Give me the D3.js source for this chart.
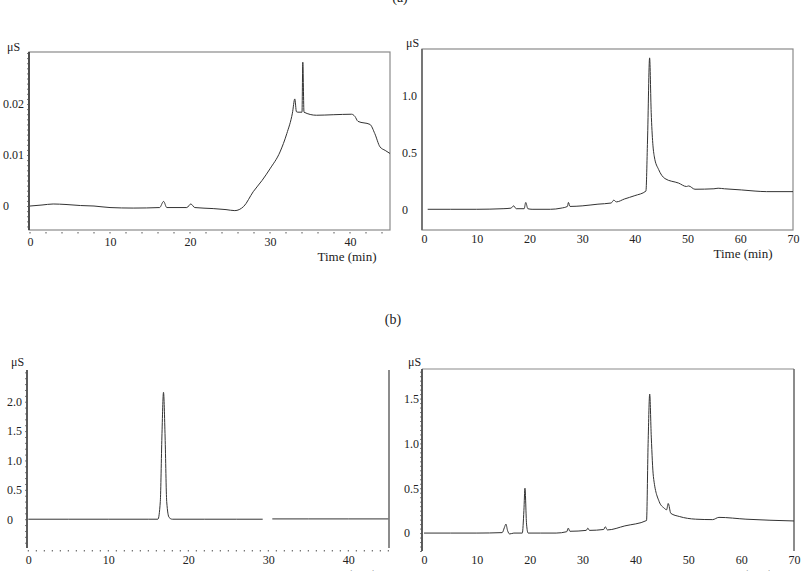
<!DOCTYPE html>
<html lang="en">
<head>
<meta charset="UTF-8"/>
<title>Chromatograms (a) and (b)</title>
<script src="https://d3js.org/d3.v7.min.js"></script>
<style>
	body { margin: 0; background: #fff; }
	text { font-family: "Liberation Serif", "Times New Roman", serif; fill: #222; }
</style>
</head>
<body>
<script>
	// panel (a) left: time (min) and conductivity (uS)
	var timeA = [0, 1.5, 2.9, 4.5, 6.3, 8, 10, 12.9, 16.2, 16.7, 17.1, 18, 19.6, 20.1, 20.6, 22.9, 24.5, 25.6, 26.7, 27.9, 29, 30, 31.25, 32.1, 32.8, 33.1, 33.3, 33.5, 34.0, 34.1, 34.25, 35.8, 37.9, 40.2, 40.6, 41.0, 42.5, 43.1, 43.75, 44.4, 45];
	var valueA = [0, 0.0002, 0.0004, 0.0003, 0.0001, 0, -0.0003, -0.0004, -0.0003, 0.0009, -0.0003, -0.0003, -0.0003, 0.0004, -0.0003, -0.0005, -0.0007, -0.0009, -0.0001, 0.0028, 0.005, 0.0073, 0.0106, 0.0142, 0.0182, 0.021, 0.0185, 0.0184, 0.0184, 0.0282, 0.0184, 0.0178, 0.0179, 0.018, 0.0176, 0.0166, 0.016, 0.0142, 0.0116, 0.0109, 0.0103];

	// panel (a) right
	var timeB = [0.7, 5, 10, 15, 16.5, 17, 17.5, 19, 19.3, 19.7, 20.5, 24, 26, 27.2, 27.4, 27.7, 30, 33, 35.5, 36, 36.5, 38, 40, 42.1, 42.4, 42.8, 43.1, 43.4, 43.7, 44.5, 45.7, 48.3, 49.8, 50.2, 51.4, 55, 55.8, 57, 60.2, 62.8, 65, 70];
	var valueB = [0, 0, 0, 0.005, 0.01, 0.03, 0.005, 0.005, 0.06, 0.005, 0, 0, 0.01, 0.025, 0.06, 0.025, 0.03, 0.045, 0.055, 0.08, 0.065, 0.09, 0.12, 0.16, 0.6, 1.33, 0.85, 0.58, 0.46, 0.35, 0.27, 0.23, 0.2, 0.205, 0.176, 0.18, 0.185, 0.18, 0.17, 0.16, 0.155, 0.155];

	// panel (b) left (null = gap in the trace)
	var timeC = [0, 5, 10, 15, 16.2, 16.5, 16.7, 16.9, 17.1, 17.3, 17.6, 18, 22, 26, 29.3, 29.4, 30.5, 35, 40, 45];
	var valueC = [0, 0, 0, 0, 0, 0.3, 1.4, 2.16, 1.4, 0.3, 0.03, 0, 0, 0, 0, null, 0.005, 0.005, 0.005, 0.005];

	// panel (b) right
	var timeD = [0, 5, 10, 14.8, 15.2, 15.5, 15.8, 16.2, 17, 18.6, 18.9, 19.1, 19.4, 19.7, 22, 25, 27, 27.3, 27.6, 30.7, 31.0, 31.3, 34.0, 34.3, 34.7, 38, 42.1, 42.4, 42.7, 43.0, 43.4, 44.5, 45.4, 45.9, 46.2, 46.7, 48.3, 51.4, 54.6, 55.8, 60.9, 70];
	var valueD = [0, 0, 0, 0.005, 0.06, 0.1, 0.03, -0.01, 0, 0, 0.25, 0.5, 0.1, 0, 0, 0, 0.015, 0.055, 0.02, 0.03, 0.055, 0.03, 0.04, 0.07, 0.035, 0.08, 0.14, 1.0, 1.55, 1.07, 0.63, 0.35, 0.28, 0.26, 0.33, 0.22, 0.185, 0.155, 0.15, 0.175, 0.155, 0.135];

	// tick labels
	var xTicks45 = [0, 10, 20, 30, 40];
	var xTicks70 = [0, 10, 20, 30, 40, 50, 60, 70];
	var yTicksA = [0, 0.01, 0.02];
	var yLabelsA = ["0", "0.01", "0.02"];
	var yTicksB = [0, 0.5, 1.0];
	var yLabelsB = ["0", "0.5", "1.0"];
	var yTicksC = [0, 0.5, 1.0, 1.5, 2.0];
	var yLabelsC = ["0", "0.5", "1.0", "1.5", "2.0"];
	var yTicksD = [0, 0.5, 1.0, 1.5];
	var yLabelsD = ["0", "0.5", "1.0", "1.5"];

	var w = 806;
	var h = 571;

	var svg = d3.select("body").append("svg").attr("width", w).attr("height", h);
	svg.append("rect").attr("width", w).attr("height", h).attr("fill", "#fff");

	var panels = [
		{id: "A", time: timeA, value: valueA, xDomain: [0, 45], xRange: [30, 390], yDomain: [-0.0047, 0.0302],
		 left: 29, right: 390, top: 52, bottom: 230, box: true, xTicks: xTicks45, yTicks: yTicksA, yLabels: yLabelsA,
		 labelX: 3, tickY: 246, unitY: 51, timeLabelY: 261, timeLabelX: 347, yMinor: 0.001, xMinor: 2},
		{id: "B", time: timeB, value: valueB, xDomain: [0, 70], xRange: [424, 793], yDomain: [-0.182, 1.408],
		 left: 422, right: 793, top: 49, bottom: 230, box: true, xTicks: xTicks70, yTicks: yTicksB, yLabels: yLabelsB,
		 labelX: 402, tickY: 243, unitY: 47, timeLabelY: 258, timeLabelX: 743, yMinor: null, xMinor: null},
		{id: "C", time: timeC, value: valueC, xDomain: [0, 45], xRange: [28.3, 388.3], yDomain: [-0.49, 2.54],
		 left: 27, right: 389, top: 370, bottom: 548, box: false, xTicks: xTicks45, yTicks: yTicksC, yLabels: yLabelsC,
		 labelX: 7, tickY: 564, unitY: 366, timeLabelY: 579, timeLabelX: 347, yMinor: 0.1, xMinor: 1},
		{id: "D", time: timeD, value: valueD, xDomain: [0, 70], xRange: [424, 794], yDomain: [-0.2, 1.83],
		 left: 422, right: 794, top: 369, bottom: 551, box: false, xTicks: xTicks70, yTicks: yTicksD, yLabels: yLabelsD,
		 labelX: 404, tickY: 564, unitY: 366, timeLabelY: 579, timeLabelX: 743, yMinor: 0.05, xMinor: null}
	];

	panels.forEach(function(p){
		var xScale = d3.scaleLinear().domain(p.xDomain).range(p.xRange);
		var yScale = d3.scaleLinear().domain(p.yDomain).range([p.bottom, p.top]);

		var g = svg.append("g");

		// frame
		if (p.box) {
			g.append("rect")
				.attr("x", p.left).attr("y", p.top)
				.attr("width", p.right - p.left).attr("height", p.bottom - p.top)
				.attr("fill", "none").attr("stroke", "#8a8a8a").attr("stroke-width", 1.2);
		} else {
			if (p.id == "D") {
				g.append("line").attr("x1", p.left).attr("x2", p.right).attr("y1", p.top).attr("y2", p.top)
					.attr("stroke", "#8a8a8a").attr("stroke-width", 1.2);
			}
			g.append("line").attr("x1", p.right).attr("x2", p.right).attr("y1", p.top).attr("y2", p.bottom)
				.attr("stroke", "#666").attr("stroke-width", 1.5);
		}

		// left axis
		g.append("line").attr("x1", p.left).attr("x2", p.left).attr("y1", p.top).attr("y2", p.bottom)
			.attr("stroke", p.id == "B" ? "#666" : "#333").attr("stroke-width", 1.6);

		if (p.yMinor) {
			var minor = d3.axisLeft(yScale)
				.tickValues(d3.range(Math.ceil(p.yDomain[0] / p.yMinor) * p.yMinor, p.yDomain[1], p.yMinor))
				.tickSize(2).tickFormat("");
			var mg = g.append("g").attr("transform", "translate(" + p.left + ",0)").call(minor);
			mg.select(".domain").remove();
			mg.selectAll("line").attr("stroke", "#555").attr("stroke-width", 0.8);
		}

		var yAxis = d3.axisLeft(yScale)
			.tickValues(p.yTicks)
			.tickSize(0)
			.tickFormat(function(d, i){ return p.yLabels[i]; });
		var ya = g.append("g").attr("transform", "translate(" + p.left + ",0)").call(yAxis);
		ya.select(".domain").remove();
		ya.attr("font-family", null);
		ya.selectAll("text")
			.attr("x", p.labelX - p.left)
			.attr("text-anchor", "start")
			.style("font-size", "12px")
			.attr("fill", "#222");

		// bottom minor dots
		if (p.xMinor) {
			g.selectAll(".xminor" + p.id)
				.data(d3.range(p.xDomain[0], p.xDomain[1] + 0.01, p.xMinor))
				.enter().append("line")
				.attr("x1", function(d){ return xScale(d); })
				.attr("x2", function(d){ return xScale(d); })
				.attr("y1", p.bottom + 2).attr("y2", p.bottom + 3.5)
				.attr("stroke", "#555").attr("stroke-width", 1);
		}

		var xAxis = d3.axisBottom(xScale).tickValues(p.xTicks).tickSize(0).tickFormat(d3.format("d"));
		var xa = g.append("g").attr("transform", "translate(0," + p.bottom + ")").call(xAxis);
		xa.select(".domain").remove();
		xa.attr("font-family", null);
		xa.selectAll("text")
			.attr("y", p.tickY - p.bottom)
			.attr("dy", null)
			.style("font-size", "12px")
			.attr("fill", "#222");

		// unit and axis title
		g.append("text").attr("x", p.labelX + 4).attr("y", p.unitY)
			.style("font-size", "12px").text("μS");
		g.append("text").attr("x", p.timeLabelX).attr("y", p.timeLabelY)
			.attr("text-anchor", "middle").style("font-size", "13px").text("Time (min)");

		// trace
		svg.append("clipPath").attr("id", "clip" + p.id)
			.append("rect").attr("x", p.left).attr("y", p.top)
			.attr("width", p.right - p.left).attr("height", p.bottom - p.top);

		var line = d3.line()
			.defined(function(d){ return d[1] !== null; })
			.x(function(d){ return xScale(d[0]); })
			.y(function(d){ return yScale(d[1]); })
			.curve(d3.curveMonotoneX);

		g.append("path")
			.datum(d3.zip(p.time, p.value))
			.attr("clip-path", "url(#clip" + p.id + ")")
			.attr("d", line)
			.attr("fill", "none")
			.attr("stroke", "#333")
			.attr("stroke-width", 1);
	});

	// panel captions
	svg.append("text").attr("x", 400).attr("y", 2).attr("text-anchor", "middle")
		.style("font-size", "14px").text("(a)");
	svg.append("text").attr("x", 393).attr("y", 324).attr("text-anchor", "middle")
		.style("font-size", "14px").text("(b)");
</script>
</body>
</html>
